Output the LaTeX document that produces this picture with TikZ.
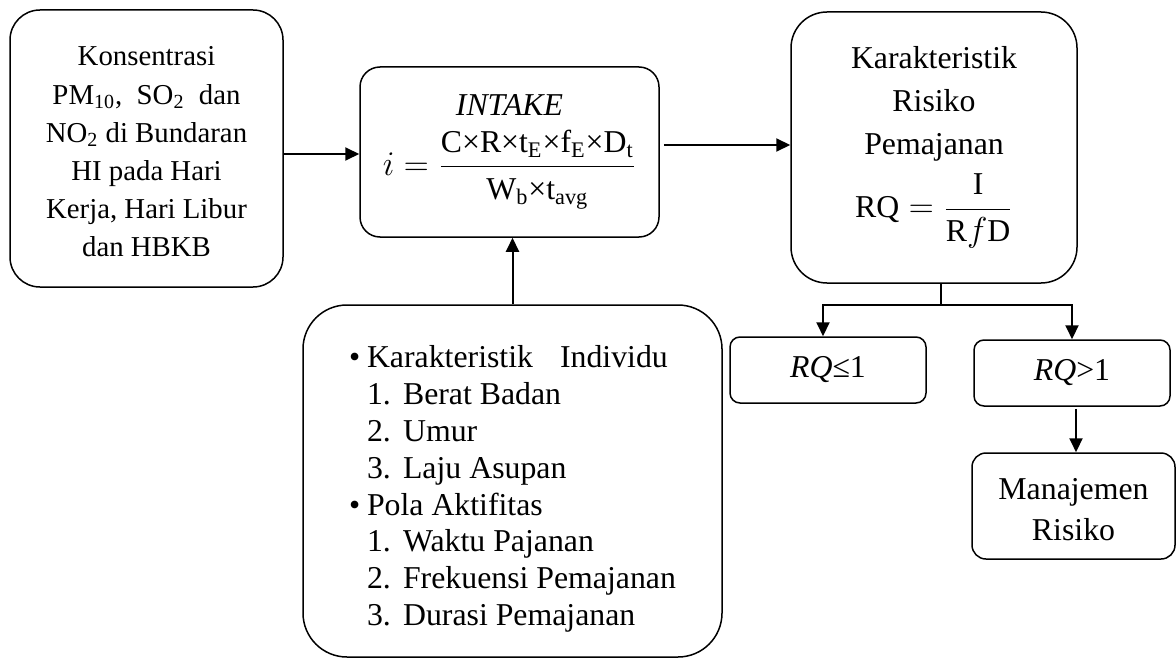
\documentclass[tikz,border=0pt]{standalone}
\usepackage{fontspec}
\setmainfont{Liberation Serif}
\usetikzlibrary{positioning,arrows.meta}

\begin{document}
\begin{tikzpicture}[x=0.5pt,y=-0.5pt,
    roundbox/.style={rectangle, draw=black, line width=0.75pt, align=center, inner sep=0pt},
    arrowline/.style={line width=1pt, -{Triangle[length=7pt,width=6.5pt]}},
    plainline/.style={line width=1pt},
]
\useasboundingbox (0,0) rectangle (1176,658);

%Nodes
\node[roundbox, rounded corners=15pt, minimum width=136.5pt, minimum height=138.5pt,
      font=\fontsize{14.4}{19.1}\selectfont] (konsentrasi) at (146.5,148.5)
      {\rule{0pt}{13pt}Konsentrasi\\ PM\textsubscript{10},\ \ SO\textsubscript{2}\ \ dan\\ NO\textsubscript{2} di Bundaran\\
       HI pada Hari\\ Kerja, Hari Libur\\ dan HBKB};

\node[roundbox, rounded corners=10pt, minimum width=149.5pt, minimum height=85pt,
      font=\fontsize{15.9}{18.4}\selectfont] (intake) at (509.5,152)
      {\textit{INTAKE}\\[6pt]
       $\displaystyle i=\frac{\mbox{C×R×t\textsubscript{E}×f\textsubscript{E}×D\textsubscript{t}}}{\mbox{W\textsubscript{b}×t\textsubscript{avg}}}$};

\node[roundbox, rounded corners=18pt, minimum width=143pt, minimum height=135.5pt,
      font=\fontsize{15.9}{21.5}\selectfont] (karakteristik) at (934,147.5)
      {Karakteristik\\ Risiko\\ Pemajanan\\[5pt]
       $\displaystyle\mathrm{RQ}=\frac{\mathrm{I}}{\mathrm{R}f\mathrm{D}}$};

\node[roundbox, rounded corners=22pt, minimum width=209.5pt, minimum height=176pt, align=left,
      font=\fontsize{15.9}{18.4}\selectfont] (faktor) at (512.5,481)
      {\rule{0pt}{19pt}\makebox[9pt][l]{\textbullet}Karakteristik\hspace{13.5pt}Individu\\
       \hspace*{9pt}\makebox[18pt][l]{1.}Berat Badan\\
       \hspace*{9pt}\makebox[18pt][l]{2.}Umur\\
       \hspace*{9pt}\makebox[18pt][l]{3.}Laju Asupan\\
       \makebox[9pt][l]{\textbullet}Pola Aktifitas\\
       \hspace*{9pt}\makebox[18pt][l]{1.}Waktu Pajanan\\
       \hspace*{9pt}\makebox[18pt][l]{2.}Frekuensi Pemajanan\\
       \hspace*{9pt}\makebox[18pt][l]{3.}Durasi Pemajanan};

\node[roundbox, rounded corners=5pt, minimum width=98pt, minimum height=33pt,
      font=\fontsize{15.9}{18.4}\selectfont] (rqlow) at (828,370) {\textit{RQ}≤1};
\node[roundbox, rounded corners=5pt, minimum width=98pt, minimum height=33pt,
      font=\fontsize{15.9}{18.4}\selectfont] (rqhigh) at (1072,373) {\textit{RQ}>1};
\node[roundbox, rounded corners=7pt, minimum width=101.5pt, minimum height=53pt,
      font=\fontsize{15.9}{20.5}\selectfont] (manajemen) at (1073.5,506) {\rule{0pt}{14pt}Manajemen\\ Risiko};

\coordinate (fork) at (941,305);

%Lines
\draw[arrowline] ([yshift=-1pt]intake.west -| konsentrasi.east) -- ([yshift=-1pt]intake.west);
\draw[arrowline] ([xshift=2pt,yshift=3.5pt]intake.east) -- ([yshift=3.5pt]intake.east -| karakteristik.west);
\draw[arrowline] (faktor.north) -- (faktor.north |- intake.south);

\draw[plainline] (fork |- karakteristik.south) -- (fork);
\draw[arrowline] (fork) -| ([xshift=-2.5pt]rqlow.north);
\draw[arrowline] (fork) -| (rqhigh.north);
\draw[arrowline] ([xshift=2pt,yshift=-1pt]rqhigh.south) -- ([xshift=2pt]rqhigh.south |- manajemen.north);
\end{tikzpicture}
\end{document}
